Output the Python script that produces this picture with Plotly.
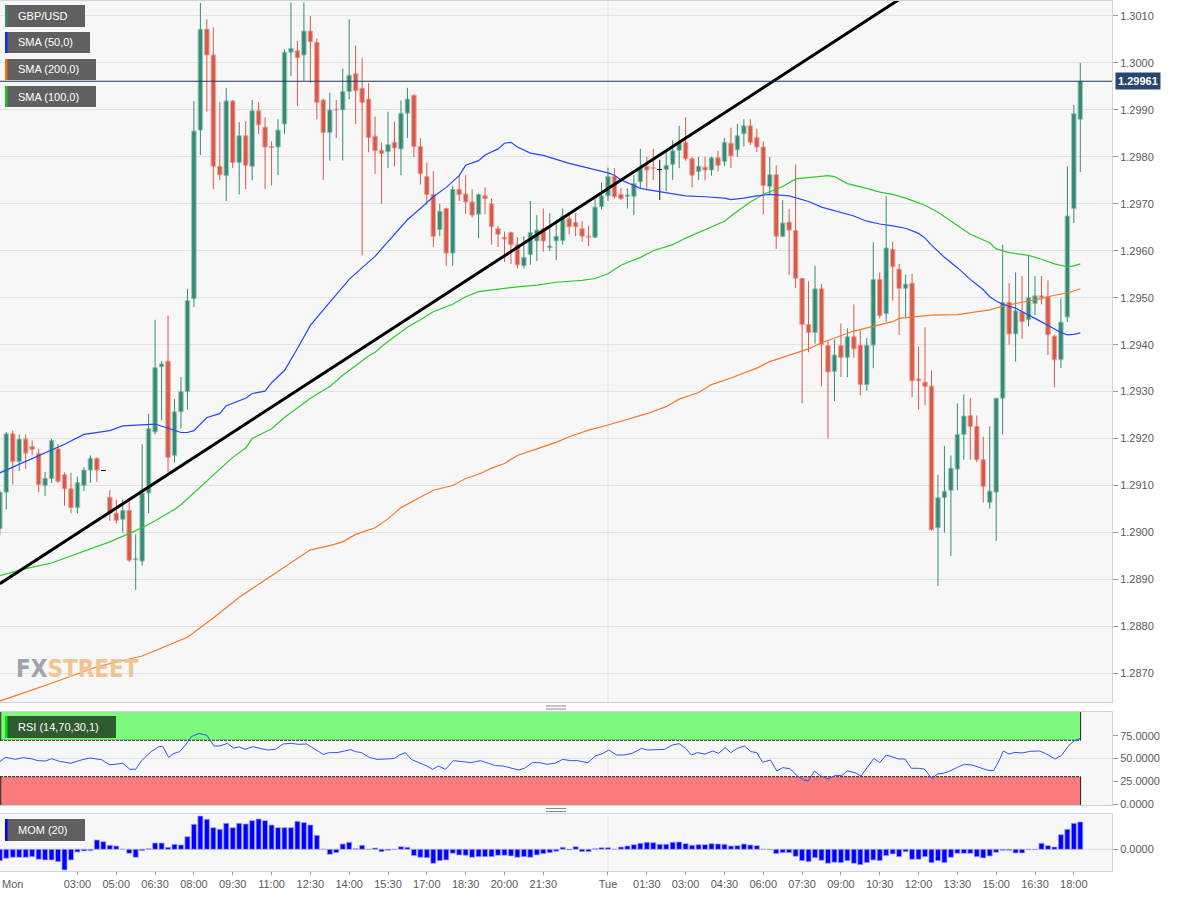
import plotly.graph_objects as go

# ---------------- data (15-minute bars, index 0 = Tue 00:00) ----------------
bar_index = list(range(-94, 74))

open_ = [
    1.29008, 1.29086, 1.29210, 1.29151, 1.29199, 1.29183, 1.29168, 1.29100, 1.29115, 1.29178,
    1.29123, 1.29093, 1.29053, 1.29100, 1.29133, 1.29158, 1.29132, 1.29075, 1.29041, 1.29028,
    1.29047, 1.28942, 1.28939, 1.29084, 1.29214, 1.29353, 1.29365, 1.29164, 1.29257, 1.29300,
    1.29498, 1.29857, 1.30072, 1.30017, 1.29780, 1.29760, 1.29919, 1.29788, 1.29845, 1.29780,
    1.29898, 1.29863, 1.29822, 1.29821, 1.29870, 1.30023, 1.30026, 1.30017, 1.30068, 1.30044,
    1.29921, 1.29852, 1.29901, 1.29900, 1.29939, 1.29977, 1.29946, 1.29923, 1.29844, 1.29814,
    1.29811, 1.29831, 1.29817, 1.29893, 1.29931, 1.29822, 1.29758, 1.29720, 1.29645, 1.29690,
    1.29595, 1.29731, 1.29721, 1.29704, 1.29678, 1.29717, 1.29700, 1.29647, 1.29629, 1.29639,
    1.29613, 1.29568, 1.29592, 1.29621, 1.29647, 1.29607, 1.29621, 1.29622, 1.29668, 1.29660,
    1.29647, 1.29631, 1.29629, 1.29694, 1.29717, 1.29758, 1.29720, 1.29716, 1.29716, 1.29747,
    1.29780, 1.29777, 1.29773, 1.29773, 1.29784, 1.29814, 1.29831, 1.29796, 1.29769, 1.29778,
    1.29772, 1.29798, 1.29790, 1.29829, 1.29815, 1.29849, 1.29866, 1.29841, 1.29821, 1.29737,
    1.29762, 1.29631, 1.29661, 1.29643, 1.29541, 1.29443, 1.29426, 1.29519, 1.29398, 1.29343,
    1.29398, 1.29373, 1.29417, 1.29399, 1.29315, 1.29399, 1.29539, 1.29466, 1.29603, 1.29561,
    1.29520, 1.29531, 1.29327, 1.29320, 1.29312, 1.29010, 1.29074, 1.29090, 1.29135, 1.29209,
    1.29249, 1.29226, 1.29155, 1.29064, 1.29086, 1.29286, 1.29490, 1.29423, 1.29470, 1.29453,
    1.29488, 1.29504, 1.29502, 1.29418, 1.29368, 1.29459, 1.29690, 1.29880,
]
high = [
    1.29090, 1.29214, 1.29217, 1.29209, 1.29209, 1.29196, 1.29178, 1.29129, 1.29199, 1.29188,
    1.29128, 1.29127, 1.29119, 1.29139, 1.29164, 1.29160, 1.29133, 1.29090, 1.29070, 1.29070,
    1.29066, 1.28996, 1.29188, 1.29253, 1.29453, 1.29365, 1.29462, 1.29284, 1.29331, 1.29519,
    1.29919, 1.30128, 1.30093, 1.30076, 1.29917, 1.29947, 1.29921, 1.29874, 1.29876, 1.29921,
    1.29916, 1.29884, 1.29833, 1.29880, 1.30029, 1.30129, 1.30047, 1.30129, 1.30100, 1.30052,
    1.29924, 1.29937, 1.29921, 1.29988, 1.30093, 1.30037, 1.30010, 1.29957, 1.29886, 1.29831,
    1.29896, 1.29875, 1.29920, 1.29947, 1.29933, 1.29840, 1.29788, 1.29770, 1.29700, 1.29692,
    1.29739, 1.29760, 1.29761, 1.29731, 1.29722, 1.29735, 1.29711, 1.29653, 1.29641, 1.29641,
    1.29629, 1.29631, 1.29706, 1.29676, 1.29690, 1.29680, 1.29666, 1.29690, 1.29680, 1.29680,
    1.29663, 1.29653, 1.29711, 1.29745, 1.29777, 1.29776, 1.29733, 1.29733, 1.29761, 1.29817,
    1.29800, 1.29817, 1.29794, 1.29813, 1.29835, 1.29866, 1.29884, 1.29800, 1.29800, 1.29800,
    1.29800, 1.29813, 1.29840, 1.29862, 1.29870, 1.29880, 1.29880, 1.29860, 1.29833, 1.29800,
    1.29782, 1.29708, 1.29689, 1.29784, 1.29542, 1.29535, 1.29568, 1.29529, 1.29410, 1.29411,
    1.29445, 1.29435, 1.29486, 1.29431, 1.29414, 1.29618, 1.29554, 1.29716, 1.29619, 1.29572,
    1.29549, 1.29551, 1.29396, 1.29437, 1.29345, 1.29123, 1.29184, 1.29164, 1.29275, 1.29294,
    1.29286, 1.29249, 1.29204, 1.29226, 1.29286, 1.29613, 1.29531, 1.29554, 1.29546, 1.29591,
    1.29546, 1.29546, 1.29537, 1.29421, 1.29498, 1.29780, 1.29911, 1.30000,
]
low = [
    1.28994, 1.29049, 1.29102, 1.29131, 1.29135, 1.29164, 1.29086, 1.29078, 1.29105, 1.29106,
    1.29057, 1.29041, 1.29041, 1.29088, 1.29106, 1.29108, 1.29131, 1.29025, 1.29019, 1.29000,
    1.28937, 1.28878, 1.28929, 1.29041, 1.29209, 1.29239, 1.29129, 1.29149, 1.29221, 1.29262,
    1.29480, 1.29804, 1.29896, 1.29731, 1.29751, 1.29706, 1.29776, 1.29720, 1.29731, 1.29750,
    1.29849, 1.29731, 1.29739, 1.29761, 1.29849, 1.29972, 1.29908, 1.29962, 1.29957, 1.29880,
    1.29751, 1.29792, 1.29840, 1.29792, 1.29923, 1.29870, 1.29590, 1.29810, 1.29764, 1.29700,
    1.29776, 1.29780, 1.29761, 1.29840, 1.29800, 1.29741, 1.29698, 1.29608, 1.29631, 1.29568,
    1.29568, 1.29706, 1.29678, 1.29671, 1.29627, 1.29678, 1.29613, 1.29608, 1.29576, 1.29572,
    1.29562, 1.29562, 1.29570, 1.29578, 1.29598, 1.29600, 1.29580, 1.29613, 1.29635, 1.29631,
    1.29619, 1.29610, 1.29627, 1.29688, 1.29706, 1.29711, 1.29708, 1.29690, 1.29676, 1.29733,
    1.29733, 1.29751, 1.29708, 1.29727, 1.29751, 1.29776, 1.29792, 1.29735, 1.29751, 1.29750,
    1.29760, 1.29769, 1.29780, 1.29776, 1.29800, 1.29822, 1.29825, 1.29810, 1.29678, 1.29720,
    1.29604, 1.29629, 1.29549, 1.29521, 1.29275, 1.29384, 1.29402, 1.29311, 1.29200, 1.29280,
    1.29331, 1.29331, 1.29372, 1.29292, 1.29302, 1.29350, 1.29456, 1.29449, 1.29494, 1.29421,
    1.29459, 1.29288, 1.29262, 1.29271, 1.29004, 1.28886, 1.29000, 1.28950, 1.29090, 1.29155,
    1.29155, 1.29150, 1.29064, 1.29051, 1.28982, 1.29209, 1.29400, 1.29364, 1.29413, 1.29439,
    1.29463, 1.29486, 1.29378, 1.29309, 1.29350, 1.29448, 1.29659, 1.29768,
]
close = [
    1.29086, 1.29210, 1.29151, 1.29199, 1.29169, 1.29177, 1.29102, 1.29115, 1.29196, 1.29109,
    1.29093, 1.29053, 1.29106, 1.29133, 1.29158, 1.29133, 1.29132, 1.29041, 1.29026, 1.29047,
    1.28941, 1.28944, 1.29084, 1.29221, 1.29351, 1.29359, 1.29160, 1.29257, 1.29300, 1.29494,
    1.29855, 1.30072, 1.30017, 1.29780, 1.29762, 1.29919, 1.29788, 1.29845, 1.29782, 1.29898,
    1.29868, 1.29821, 1.29820, 1.29857, 1.30023, 1.30031, 1.30011, 1.30068, 1.30045, 1.29916,
    1.29852, 1.29900, 1.29900, 1.29939, 1.29974, 1.29941, 1.29916, 1.29841, 1.29813, 1.29807,
    1.29826, 1.29819, 1.29893, 1.29923, 1.29822, 1.29764, 1.29720, 1.29631, 1.29684, 1.29595,
    1.29731, 1.29720, 1.29704, 1.29676, 1.29720, 1.29711, 1.29651, 1.29635, 1.29625, 1.29613,
    1.29570, 1.29586, 1.29639, 1.29644, 1.29621, 1.29610, 1.29631, 1.29674, 1.29651, 1.29651,
    1.29631, 1.29629, 1.29693, 1.29717, 1.29758, 1.29715, 1.29711, 1.29719, 1.29743, 1.29776,
    1.29772, 1.29776, 1.29773, 1.29782, 1.29813, 1.29831, 1.29796, 1.29761, 1.29780, 1.29772,
    1.29798, 1.29782, 1.29831, 1.29802, 1.29845, 1.29866, 1.29831, 1.29821, 1.29739, 1.29762,
    1.29631, 1.29659, 1.29644, 1.29541, 1.29443, 1.29426, 1.29519, 1.29400, 1.29342, 1.29378,
    1.29373, 1.29417, 1.29391, 1.29315, 1.29399, 1.29539, 1.29462, 1.29606, 1.29566, 1.29520,
    1.29529, 1.29323, 1.29323, 1.29311, 1.29006, 1.29074, 1.29088, 1.29137, 1.29209, 1.29248,
    1.29226, 1.29155, 1.29098, 1.29088, 1.29286, 1.29490, 1.29423, 1.29472, 1.29449, 1.29500,
    1.29504, 1.29500, 1.29421, 1.29368, 1.29448, 1.29674, 1.29892, 1.29961,
]

sma50_idx = [-94, -86, -84, -81, -77, -75, -71, -70, -68, -66, -65, -64, -62, -60, -59, -56, -55,
             -53, -52, -50, -48, -46, -44, -42, -40, -38, -36, -35, -33, -31, -29, -27, -25, -23,
             -22, -20, -19, -17, -16, -15, -14, -12, -10, -8, -6, -3, 0, 1, 2, 4, 5, 7, 10, 12,
             15, 18, 19, 21, 23, 25, 28, 31, 33, 36, 38, 40, 42, 44, 46, 48, 49, 50, 52, 54, 56,
             58, 59, 60, 61, 63, 64, 66, 68, 70, 71, 72, 73]
sma50_val = [1.29127, 1.29176, 1.29188, 1.29209, 1.29217, 1.29227, 1.29231, 1.29231, 1.29222,
             1.29213, 1.29213, 1.29217, 1.29245, 1.29253, 1.29270, 1.29286, 1.29296, 1.29301,
             1.29319, 1.29345, 1.29392, 1.29441, 1.29474, 1.29506, 1.29539, 1.29564, 1.29588,
             1.29604, 1.29635, 1.29666, 1.29690, 1.29715, 1.29735, 1.29760, 1.29782, 1.29792,
             1.29804, 1.29817, 1.29829, 1.29831, 1.29821, 1.29808, 1.29803, 1.29794, 1.29786,
             1.29776, 1.29766, 1.29761, 1.29751, 1.29739, 1.29733, 1.29728, 1.29721, 1.29717,
             1.29715, 1.29712, 1.29709, 1.29712, 1.29717, 1.29720, 1.29717, 1.29705, 1.29693,
             1.29682, 1.29674, 1.29663, 1.29657, 1.29653, 1.29648, 1.29637, 1.29627, 1.29612,
             1.29586, 1.29564, 1.29539, 1.29517, 1.29502, 1.29493, 1.29486, 1.29478, 1.29470,
             1.29456, 1.29441, 1.29426, 1.29421, 1.29422, 1.29425]

sma100_idx = [-94, -90, -86, -81, -77, -73, -71, -69, -67, -66, -65, -64, -62, -60, -58, -56, -55,
              -52, -50, -48, -46, -43, -41, -39, -37, -36, -35, -33, -31, -29, -27, -24, -22, -20,
              -18, -16, -14, -11, -8, -6, -4, -2, 0, 2, 5, 7, 10, 12, 15, 18, 20, 22, 24, 27, 29,
              31, 34, 35, 37, 40, 42, 44, 46, 48, 49, 51, 54, 56, 59, 60, 62, 65, 67, 69, 71, 72, 73]
sma100_val = [1.28908, 1.28923, 1.28935, 1.28960, 1.28980, 1.29004, 1.29017, 1.29033, 1.29049,
              1.29059, 1.29072, 1.29084, 1.29111, 1.29135, 1.29160, 1.29180, 1.29200, 1.29221,
              1.29245, 1.29266, 1.29286, 1.29311, 1.29335, 1.29355, 1.29376, 1.29384, 1.29396,
              1.29417, 1.29437, 1.29453, 1.29470, 1.29486, 1.29502, 1.29513, 1.29517, 1.29520,
              1.29523, 1.29527, 1.29533, 1.29535, 1.29537, 1.29541, 1.29551, 1.29569, 1.29586,
              1.29600, 1.29613, 1.29627, 1.29645, 1.29663, 1.29684, 1.29704, 1.29720, 1.29737,
              1.29753, 1.29756, 1.29760, 1.29758, 1.29743, 1.29733, 1.29725, 1.29720, 1.29712,
              1.29702, 1.29697, 1.29682, 1.29653, 1.29635, 1.29617, 1.29604, 1.29596, 1.29590,
              1.29582, 1.29572, 1.29566, 1.29568, 1.29572]

sma200_idx = [-94, -86, -79, -72, -69, -65, -61, -57, -53, -49, -46, -43, -41, -39, -36, -34, -32,
              -29, -27, -24, -22, -20, -18, -16, -14, -11, -8, -6, -3, 0, 3, 6, 9, 11, 14, 16, 19,
              21, 23, 25, 28, 31, 33, 36, 38, 41, 44, 45, 47, 50, 54, 59, 61, 63, 65, 67, 68, 70,
              71, 73]
sma200_val = [1.28641, 1.28679, 1.28714, 1.28737, 1.28754, 1.28777, 1.28818, 1.28862, 1.28899,
              1.28935, 1.28963, 1.28972, 1.28980, 1.28996, 1.29010, 1.29029, 1.29053, 1.29075,
              1.29090, 1.29100, 1.29115, 1.29124, 1.29137, 1.29147, 1.29164, 1.29178, 1.29192,
              1.29204, 1.29218, 1.29229, 1.29241, 1.29253, 1.29268, 1.29284, 1.29298, 1.29315,
              1.29329, 1.29339, 1.29350, 1.29364, 1.29377, 1.29391, 1.29404, 1.29419, 1.29429,
              1.29439, 1.29449, 1.29456, 1.29459, 1.29463, 1.29464, 1.29474, 1.29482, 1.29488,
              1.29493, 1.29498, 1.29502, 1.29508, 1.29510, 1.29519]

trend_idx = [-94, 50]
trend_val = [1.28891, 1.30180]

last_price = 1.29961

rsi_idx = [-94, -93.1, -91.6, -90.4, -89.2, -88.1, -86.9, -86, -84.8, -83, -81.8, -80.1, -78.3,
           -77.1, -76.2, -75, -73.9, -73, -72.1, -70.6, -69.4, -68.8, -67.9, -67.1, -66.2, -65.3,
           -64.4, -63.2, -62, -60.9, -60, -58.8, -57.9, -57, -56.1, -54.9, -53.8, -52.6, -51.4,
           -50.2, -49, -47.8, -46.6, -45.5, -44, -43.1, -41.9, -40.7, -39.8, -39, -38.1, -36.9,
           -35.7, -34.2, -33, -32.2, -31.3, -30.4, -28.9, -28, -27.1, -26.2, -25.1, -23.9, -22.4,
           -21.2, -19.7, -18.6, -17.4, -16.2, -15, -13.8, -12.9, -11.7, -10.6, -9.4, -8.2, -7,
           -5.8, -4.7, -3.1, -1.95, -0.76, 0.13, 1.32, 2.51, 3.7, 5.18, 6.07, 7.56, 8.75, 9.94,
           11.0, 12.0, 12.9, 13.8, 15.0, 16.2, 17.1, 18.1, 18.97, 20.0, 21.1, 22.1, 23.0, 23.9,
           25.1, 26.1, 27.0, 28.1, 29.3, 30.2, 31.0, 31.9, 32.8, 34.0, 35.2, 36.1, 37.0, 38.2,
           39.1, 41.1, 42.0, 43.0, 44.1, 45.0, 45.9, 46.9, 48.0, 48.9, 50.1, 50.9, 51.8, 53.0,
           54.2, 55.1, 56.3, 57.5, 58.7, 59.6, 60.5, 61.1, 62.0, 62.9, 64.0, 65.2, 66.7, 67.6,
           69.1, 70.1, 71.2, 72.1, 73.0]
rsi_val = [46.5, 51.2, 49.0, 50.9, 49.8, 47.6, 47.2, 49.8, 46.9, 44.7, 47.6, 50.5, 48.7, 43.2,
           43.6, 44.7, 38.1, 38.1, 47.6, 57.5, 63.0, 63.0, 51.2, 55.6, 57.5, 64.8, 73.9, 77.6,
           75.4, 63.7, 63.7, 66.6, 61.5, 62.6, 60.0, 63.0, 61.1, 59.3, 60.0, 65.9, 66.6, 65.5,
           65.9, 61.1, 54.5, 56.4, 56.4, 58.2, 59.7, 57.5, 56.4, 51.2, 49.0, 49.4, 50.1, 53.8,
           56.4, 49.0, 44.7, 41.7, 38.1, 41.7, 38.1, 47.6, 46.5, 45.4, 47.6, 44.7, 42.1, 41.7,
           39.9, 37.3, 39.2, 45.4, 45.4, 43.6, 44.7, 49.0, 47.6, 47.6, 45.4, 52.7, 55.6, 59.3,
           53.8, 53.8, 55.6, 61.1, 59.3, 59.3, 60.0, 64.8, 66.2, 61.1, 53.8, 56.4, 54.9, 58.2,
           55.6, 61.9, 56.4, 61.1, 63.7, 57.5, 56.4, 45.8, 48.3, 36.2, 39.9, 38.8, 30.7, 26.4,
           25.6, 36.2, 31.1, 27.5, 31.5, 31.1, 36.2, 34.4, 30.7, 50.1, 45.4, 53.8, 51.2, 49.4,
           49.4, 39.2, 39.2, 38.4, 27.5, 32.9, 33.7, 36.6, 41.0, 43.6, 42.8, 40.3, 37.0, 36.6,
           48.3, 58.2, 54.9, 56.7, 56.0, 57.8, 58.2, 55.6, 49.4, 53.4, 64.1, 69.5, 72.1]

mom_val = [
    -0.00346, -0.00275, -0.00244, -0.00244, -0.00244, -0.00224, -0.00305, -0.00325, -0.00325, -0.00376,
    -0.00631, -0.00325, -0.00081, -0.00051, -0.00041, 0.00285, 0.00234, 0.00122, 0.00102, 0.00000,
    -0.00122, -0.00244, -0.00041, 0.00020, 0.00193, 0.00193, 0.00061, 0.00153, 0.00132, 0.00386,
    0.00763, 0.01017, 0.00915, 0.00661, 0.00610, 0.00793, 0.00661, 0.00793, 0.00773, 0.00875,
    0.00925, 0.00875, 0.00742, 0.00661, 0.00661, 0.00661, 0.00854, 0.00814, 0.00742, 0.00427,
    0.00000, -0.00153, -0.00102, 0.00163, 0.00214, 0.00020, 0.00122, 0.00000, 0.00041, -0.00071,
    -0.00031, 0.00000, 0.00081, 0.00061, -0.00193, -0.00244, -0.00254, -0.00427, -0.00346, -0.00325,
    -0.00122, -0.00173, -0.00183, -0.00244, -0.00224, -0.00224, -0.00224, -0.00183, -0.00183, -0.00203,
    -0.00244, -0.00224, -0.00244, -0.00173, -0.00132, -0.00102, -0.00061, 0.00061, -0.00020, 0.00081,
    -0.00071, -0.00071, 0.00020, 0.00051, 0.00051, 0.00000, 0.00071, 0.00102, 0.00142, 0.00183,
    0.00214, 0.00203, 0.00153, 0.00153, 0.00214, 0.00224, 0.00173, 0.00122, 0.00142, 0.00142,
    0.00173, 0.00163, 0.00153, 0.00102, 0.00112, 0.00163, 0.00132, 0.00112, 0.00000, -0.00010,
    -0.00132, -0.00102, -0.00102, -0.00214, -0.00346, -0.00376, -0.00254, -0.00336, -0.00427, -0.00397,
    -0.00407, -0.00346, -0.00427, -0.00468, -0.00407, -0.00325, -0.00346, -0.00193, -0.00142, -0.00224,
    -0.00071, -0.00305, -0.00305, -0.00224, -0.00407, -0.00346, -0.00407, -0.00244, -0.00122, -0.00122,
    -0.00122, -0.00224, -0.00264, -0.00203, -0.00092, -0.00031, -0.00031, -0.00112, -0.00112, -0.00010,
    -0.00010, 0.00183, 0.00112, 0.00071, 0.00447, 0.00610, 0.00793, 0.00834,
]

price_ticks = [1.2870, 1.2880, 1.2890, 1.2900, 1.2910, 1.2920, 1.2930, 1.2940, 1.2950, 1.2960,
               1.2970, 1.2980, 1.2990, 1.3000, 1.3010]
price_tick_text = ["1.2870", "1.2880", "1.2890", "1.2900", "1.2910", "1.2920", "1.2930", "1.2940",
                   "1.2950", "1.2960", "1.2970", "1.2980", "1.2990", "1.3000", "1.3010"]
rsi_ticks = [0, 25, 50, 75]
rsi_tick_text = ["0.0000", "25.0000", "50.0000", "75.0000"]
time_tick_idx = [-94, -82, -76, -70, -64, -58, -52, -46, -40, -34, -28, -22, -16, -10, 0, 6, 12,
                 18, 24, 30, 36, 42, 48, 54, 60, 66, 72]
time_tick_text = ["", "03:00", "05:00", "06:30", "08:00", "09:30", "11:00", "12:30", "14:00",
                  "15:30", "17:00", "18:30", "20:00", "21:30", "Tue", "01:30", "03:00", "04:30",
                  "06:00", "07:30", "09:00", "10:30", "12:00", "13:30", "15:00", "16:30", "18:00"]
first_day_label = "Mon"

# ---------------- styling ----------------
FONT = "Liberation Sans, Arial, sans-serif"
UP_FILL, UP_EDGE = "#378b75", "#9fcbbd"
DN_FILL, DN_EDGE = "#d75b4a", "#eca89e"
FLAT = "#111111"
BODY_W = 0.70
PLOT_W, PLOT_H = 1112, 871
X_RANGE = [-93.97, 77.9]


def px(x):
    return x / PLOT_W


def py(y):
    return (PLOT_H - y) / PLOT_H


fig = go.Figure()

# candle bodies
body_base, body_h, body_fill, body_edge = [], [], [], []
for o, c in zip(open_, close):
    body_base.append(min(o, c))
    body_h.append(abs(c - o))
    if c > o:
        body_fill.append(UP_FILL); body_edge.append(UP_EDGE)
    elif c < o:
        body_fill.append(DN_FILL); body_edge.append(DN_EDGE)
    else:
        body_fill.append(FLAT); body_edge.append(FLAT)

# wicks
wick = {"up": ([], []), "dn": ([], []), "flat": ([], [])}
for k, o, h, l, c in zip(bar_index, open_, high, low, close):
    key = "up" if c > o else ("dn" if c < o else "flat")
    wx, wy = wick[key]
    wx += [k, k, None]
    wy += [l, h, None]
    if key == "flat":
        wx += [k - BODY_W / 2, k + BODY_W / 2, None]
        wy += [o, c, None]

for key, col in (("up", UP_FILL), ("dn", DN_FILL), ("flat", FLAT)):
    fig.add_trace(go.Scatter(x=wick[key][0], y=wick[key][1], mode="lines",
                             line=dict(color=col, width=1), hoverinfo="skip",
                             xaxis="x", yaxis="y"))

fig.add_trace(go.Bar(x=bar_index, y=body_h, base=body_base, width=BODY_W,
                     marker=dict(color=body_fill, line=dict(color=body_edge, width=1)),
                     xaxis="x", yaxis="y", hoverinfo="skip"))

# moving averages and trend line
fig.add_trace(go.Scatter(x=sma200_idx, y=sma200_val, mode="lines",
                         line=dict(color="#f47a2a", width=1.2), xaxis="x", yaxis="y"))
fig.add_trace(go.Scatter(x=sma100_idx, y=sma100_val, mode="lines",
                         line=dict(color="#2ccc2c", width=1.2), xaxis="x", yaxis="y"))
fig.add_trace(go.Scatter(x=sma50_idx, y=sma50_val, mode="lines",
                         line=dict(color="#2547ff", width=1.2), xaxis="x", yaxis="y"))
fig.add_trace(go.Scatter(x=trend_idx, y=trend_val, mode="lines",
                         line=dict(color="#000000", width=3), xaxis="x", yaxis="y"))

# RSI
fig.add_trace(go.Scatter(x=rsi_idx, y=rsi_val, mode="lines",
                         line=dict(color="#2f55ff", width=1), xaxis="x2", yaxis="y2"))

# Momentum
fig.add_trace(go.Bar(x=bar_index, y=mom_val, width=0.78,
                     marker=dict(color="#0000ff", line=dict(color="#a4a4ff", width=0.8)),
                     xaxis="x3", yaxis="y3", hoverinfo="skip"))

axis_common = dict(range=X_RANGE, showgrid=False, zeroline=False, showline=True, mirror=True,
                   linecolor="#cbd3e2", linewidth=1, fixedrange=True)
y_common = dict(side="right", zeroline=False, showline=True, mirror=True, linecolor="#cbd3e2",
                linewidth=1, ticks="outside", ticklen=5, tickcolor="#9a9a9a",
                tickfont=dict(family=FONT, size=11, color="#5a5a5a"), gridcolor="#e3e3e3",
                fixedrange=True)

shapes = []
# Tue separator line in every panel
for yr in ("y domain", "y2 domain", "y3 domain"):
    shapes.append(dict(type="line", xref="x", yref=yr, x0=0, x1=0, y0=0, y1=1,
                       line=dict(color="#e3e3e3", width=1), layer="below"))
# RSI mid grid + zones
shapes.append(dict(type="line", xref="x2 domain", yref="y2", x0=0, x1=1, y0=50, y1=50,
                   line=dict(color="#e3e3e3", width=1), layer="below"))
last_k = bar_index[-1] + 0.05
shapes.append(dict(type="rect", xref="x2", yref="y2", x0=X_RANGE[0], x1=last_k, y0=70, y1=102,
                   fillcolor="#7dfa7d", line=dict(width=0), layer="below"))
shapes.append(dict(type="rect", xref="x2", yref="y2", x0=X_RANGE[0], x1=last_k, y0=-2, y1=30,
                   fillcolor="#fa7b7b", line=dict(width=0), layer="below"))
for yv in (70, 30):
    shapes.append(dict(type="line", xref="x2", yref="y2", x0=X_RANGE[0], x1=last_k, y0=yv, y1=yv,
                       line=dict(color="#222222", width=1, dash="3px,1px"), layer="below"))
for y0, y1 in ((70, 102), (-2, 30)):
    for xv in (X_RANGE[0] + 0.12, last_k):
        shapes.append(dict(type="line", xref="x2", yref="y2", x0=xv, x1=xv, y0=y0, y1=y1,
                           line=dict(color="#222222", width=1), layer="below"))
# MOM zero grid
shapes.append(dict(type="line", xref="x3 domain", yref="y3", x0=0, x1=1, y0=0, y1=0,
                   line=dict(color="#e0e0e0", width=1), layer="below"))
# last price line
shapes.append(dict(type="line", xref="x domain", yref="y", x0=0, x1=1, y0=last_price,
                   y1=last_price, line=dict(color="#1d3760", width=1), layer="above"))

annotations = []
# legend boxes
legend_boxes = [
    ("GBP/USD", "#2e8b74", "#606060", 5, 85, 5, 27),
    ("SMA (50,0)", "#0a2cff", "#606060", 5, 90, 32, 53),
    ("SMA (200,0)", "#f26a0c", "#606060", 5, 96, 59, 80),
    ("SMA (100,0)", "#1ec21e", "#606060", 5, 96, 86, 107),
    ("RSI (14,70,30,1)", "#00e600", "#2e5c2e", 5, 116, 716, 738),
    ("MOM (20)", "#0000ff", "#606060", 5, 85, 819, 841),
]
for text, strip, bg, x0, x1, y0, y1 in legend_boxes:
    shapes.append(dict(type="rect", xref="paper", yref="paper", x0=px(x0), x1=px(x1),
                       y0=py(y1), y1=py(y0), fillcolor=bg, line=dict(width=0), layer="above"))
    shapes.append(dict(type="rect", xref="paper", yref="paper", x0=px(x0), x1=px(x0 + 2.5),
                       y0=py(y1), y1=py(y0), fillcolor=strip, line=dict(width=0), layer="above"))
    annotations.append(dict(text=text, xref="paper", yref="paper", x=px(x0 + 11),
                            y=py((y0 + y1) / 2), xanchor="left", yanchor="middle",
                            showarrow=False, font=dict(family=FONT, size=11, color="#ffffff")))

# panel resize handles
for yy in (706, 709, 808.5, 811.5):
    shapes.append(dict(type="line", xref="paper", yref="paper", x0=px(546), x1=px(566),
                       y0=py(yy), y1=py(yy), line=dict(color="#8a8a8a", width=1)))

# price tag
annotations.append(dict(text="<b>1.29961</b>", xref="paper", yref="y", x=1, y=last_price,
                        xanchor="left", yanchor="middle", xshift=3, showarrow=False,
                        bgcolor="#2a4670", borderpad=2,
                        font=dict(family=FONT, size=11, color="#ffffff")))
# day label at the left edge
annotations.append(dict(text=first_day_label, xref="paper", yref="paper", x=0, y=py(884),
                        xanchor="left", yanchor="middle", showarrow=False,
                        font=dict(family=FONT, size=11, color="#5a5a5a")))
# watermark
annotations.append(dict(text="<b><span style='color:#9fa3ab'>FX</span><span style='color:#f1c493'>STREET</span></b>",
                        xref="paper", yref="paper", x=px(14), y=py(669), xanchor="left",
                        yanchor="middle", showarrow=False,
                        font=dict(family="Liberation Sans Narrow, DejaVu Sans Condensed, sans-serif",
                                  size=24, color="#f1c493")))

fig.update_layout(
    width=1183, height=897,
    margin=dict(l=0, r=71, t=0, b=26),
    paper_bgcolor="#ffffff", plot_bgcolor="#f7f7f7",
    showlegend=False, barmode="overlay", hovermode=False,
    font=dict(family=FONT, size=11, color="#5a5a5a"),
    xaxis=dict(axis_common, domain=[0, 1], anchor="y", showticklabels=False, ticks=""),
    xaxis2=dict(axis_common, domain=[0, 1], anchor="y2", matches="x", showticklabels=False,
                ticks=""),
    xaxis3=dict(axis_common, domain=[0, 1], anchor="y3", matches="x", tickmode="array",
                tickvals=time_tick_idx, ticktext=time_tick_text, ticks="outside", ticklen=3,
                tickcolor="#9a9a9a", tickfont=dict(family=FONT, size=11, color="#5a5a5a")),
    yaxis=dict(y_common, domain=[py(702), py(0.5)], anchor="x", range=[1.28639, 1.30133],
               tickmode="array", tickvals=price_ticks, ticktext=price_tick_text, showgrid=True),
    yaxis2=dict(y_common, domain=[py(805), py(711.7)], anchor="x2", range=[-1.1, 101.35],
                tickmode="array", tickvals=rsi_ticks, ticktext=rsi_tick_text, showgrid=False),
    yaxis3=dict(y_common, domain=[0, py(814.3)], anchor="x3", range=[-0.00662, 0.01068],
                tickmode="array", tickvals=[0], ticktext=["0.0000"], showgrid=False),
    shapes=shapes,
    annotations=annotations,
)

fig.write_html("out.html", config={"displayModeBar": False, "staticPlot": True},
               post_script="document.body.style.margin='0';document.body.style.overflow='hidden';")
